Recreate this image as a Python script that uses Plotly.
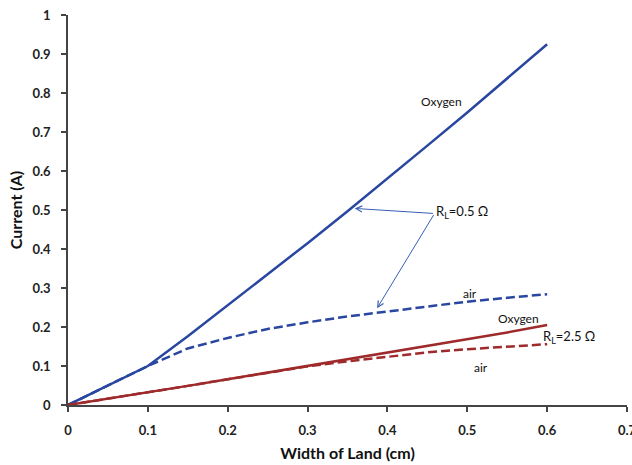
import plotly.graph_objects as go

width_cm = [0, 0.05, 0.1, 0.15, 0.2, 0.25, 0.3, 0.35, 0.4, 0.45, 0.5, 0.55, 0.6]
oxy_05 = [0, 0.049, 0.1, 0.176, 0.255, 0.335, 0.415, 0.497, 0.58, 0.665, 0.75, 0.838, 0.925]
air_05 = [0, 0.05, 0.1, 0.145, 0.172, 0.195, 0.212, 0.227, 0.24, 0.253, 0.265, 0.275, 0.284]
oxy_25 = [0, 0.016, 0.032, 0.049, 0.066, 0.083, 0.1, 0.117, 0.134, 0.151, 0.168, 0.186, 0.205]
air_25 = [0, 0.016, 0.032, 0.049, 0.066, 0.083, 0.099, 0.112, 0.124, 0.135, 0.143, 0.15, 0.156]

x_ticks = [0, 0.1, 0.2, 0.3, 0.4, 0.5, 0.6, 0.7]
y_ticks = [0, 0.1, 0.2, 0.3, 0.4, 0.5, 0.6, 0.7, 0.8, 0.9, 1]

BLUE = "#2946a0"
RED = "#9e2a2b"
FONT = "Lato"

fig = go.Figure()
fig.add_trace(go.Scatter(x=width_cm, y=oxy_05, mode="lines", line=dict(color=BLUE, width=2.5), showlegend=False))
fig.add_trace(go.Scatter(x=width_cm, y=air_05, mode="lines", line=dict(color=BLUE, width=2.5, dash="9px,4px"), showlegend=False))
fig.add_trace(go.Scatter(x=width_cm, y=oxy_25, mode="lines", line=dict(color=RED, width=2.5), showlegend=False))
fig.add_trace(go.Scatter(x=width_cm, y=air_25, mode="lines", line=dict(color=RED, width=2.5, dash="9px,4px"), showlegend=False))

txt = dict(family=FONT, size=12, color="#111")
annots = [
    dict(x=0.468, y=0.778, text="Oxygen", showarrow=False, font=txt),
    dict(x=0.493, y=0.494, text="R<sub>L</sub>=0.5 Ω", showarrow=False, font=dict(family=FONT, size=13, color="#111")),
    dict(x=0.503, y=0.285, text="air", showarrow=False, font=txt),
    dict(x=0.564, y=0.222, text="Oxygen", showarrow=False, font=txt),
    dict(x=0.627, y=0.174, text="R<sub>L</sub>=2.5 Ω", showarrow=False, font=dict(family=FONT, size=13, color="#111")),
    dict(x=0.517, y=0.097, text="air", showarrow=False, font=txt),
    dict(x=0.359, y=0.504, ax=0.459, ay=0.491, axref="x", ayref="y", text="", showarrow=True,
         arrowhead=5, arrowsize=1.2, arrowwidth=1, arrowcolor="#3a5fb5"),
    dict(x=0.387, y=0.248, ax=0.459, ay=0.491, axref="x", ayref="y", text="", showarrow=True,
         arrowhead=5, arrowsize=1.2, arrowwidth=1, arrowcolor="#3a5fb5"),
]

fig.update_layout(
    width=632, height=465,
    margin=dict(l=68, r=5, t=15, b=60, autoexpand=False),
    paper_bgcolor="white", plot_bgcolor="white",
    annotations=annots,
    font=dict(family=FONT),
)
fig.update_xaxes(
    range=[0, 0.7], tickvals=x_ticks, ticktext=[f"{v:g}" for v in x_ticks],
    showgrid=False, zeroline=False, showline=True, linecolor="#444", linewidth=1.5,
    ticks="outside", ticklen=5, tickcolor="#444", tickwidth=1.5,
    ticklabelstandoff=8, ticklabeloverflow="allow", automargin=False,
    tickfont=dict(family=FONT, size=13, color="#222", weight="bold"),
    title=dict(text="Width of Land (cm)", font=dict(family=FONT, size=16, color="#111", weight="bold"), standoff=10),
)
fig.update_yaxes(
    range=[0, 1], tickvals=y_ticks, ticktext=[f"{v:g}" for v in y_ticks],
    showgrid=False, zeroline=False, showline=True, linecolor="#444", linewidth=1.5,
    ticks="outside", ticklen=5, tickcolor="#444", tickwidth=1.5,
    ticklabelstandoff=8, automargin=False,
    tickfont=dict(family=FONT, size=13, color="#222", weight="bold"),
    title=dict(text="Current (A)", font=dict(family=FONT, size=16, color="#111", weight="bold"), standoff=6),
)

fig.write_html("out.html")
